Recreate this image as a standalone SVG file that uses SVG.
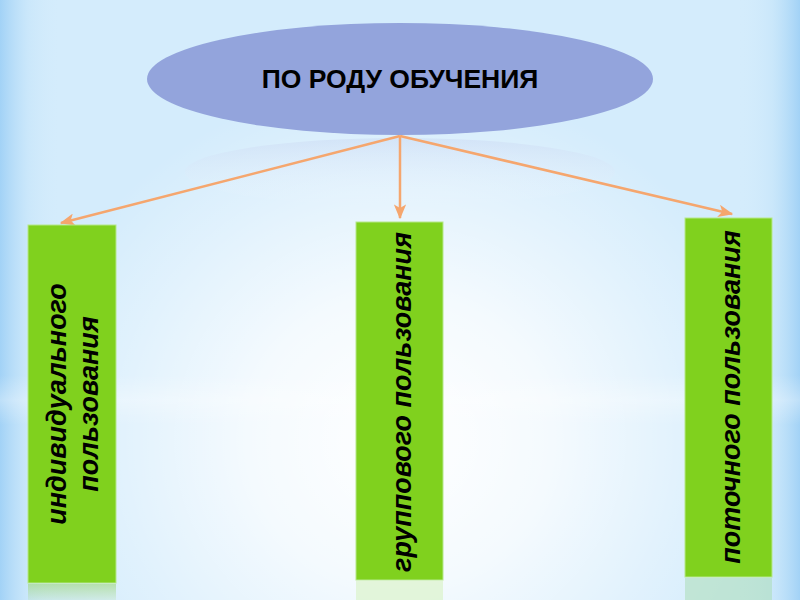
<svg xmlns="http://www.w3.org/2000/svg" width="800" height="600" viewBox="0 0 800 600">
  <defs>
    <linearGradient id="edges" x1="0" y1="0" x2="1" y2="0">
      <stop offset="0" stop-color="#A2D2F6" stop-opacity="1"/>
      <stop offset="0.035" stop-color="#C4E4FA" stop-opacity="0.6"/>
      <stop offset="0.08" stop-color="#D6EDFC" stop-opacity="0"/>
      <stop offset="0.92" stop-color="#D6EDFC" stop-opacity="0"/>
      <stop offset="0.965" stop-color="#C4E4FA" stop-opacity="0.6"/>
      <stop offset="1" stop-color="#A2D2F6" stop-opacity="1"/>
    </linearGradient>
    <radialGradient id="glow" cx="400" cy="440" r="380" gradientUnits="userSpaceOnUse" gradientTransform="translate(400 440) scale(1 0.95) translate(-400 -440)">
      <stop offset="0" stop-color="#FFFFFF" stop-opacity="1"/>
      <stop offset="0.4" stop-color="#FFFFFF" stop-opacity="0.75"/>
      <stop offset="0.75" stop-color="#FFFFFF" stop-opacity="0.3"/>
      <stop offset="1" stop-color="#FFFFFF" stop-opacity="0"/>
    </radialGradient>
    <linearGradient id="band" x1="0" y1="0" x2="0" y2="1">
      <stop offset="0" stop-color="#FFFFFF" stop-opacity="0"/>
      <stop offset="0.5" stop-color="#FFFFFF" stop-opacity="0.3"/>
      <stop offset="1" stop-color="#FFFFFF" stop-opacity="0"/>
    </linearGradient>
    <linearGradient id="ellRefl" x1="0" y1="0" x2="0" y2="1">
      <stop offset="0" stop-color="#C2CEEE" stop-opacity="0.35"/>
      <stop offset="1" stop-color="#FFFFFF" stop-opacity="0"/>
    </linearGradient>
    <linearGradient id="refl" x1="0" y1="0" x2="0" y2="1">
      <stop offset="0" stop-color="#9ED67A" stop-opacity="0.6"/>
      <stop offset="1" stop-color="#9ED67A" stop-opacity="0.15"/>
    </linearGradient>
    <marker id="arrow" viewBox="0 0 12 10" refX="11" refY="5" markerWidth="6" markerHeight="5" orient="auto" markerUnits="strokeWidth">
      <path d="M0,0 L12,5 L0,10 L3,5 Z" fill="#F5A66E"/>
    </marker>
    <style>
      .box { fill: #80D11E; stroke: #B5E88A; stroke-width: 1; }
      .boxtxt { font-family: "Liberation Sans", Arial, sans-serif; font-size: 27px; font-style: italic; font-weight: bold; fill: #000000; text-anchor: middle; }
      .title { font-family: "Liberation Sans", Arial, sans-serif; font-size: 26.5px; font-weight: bold; fill: #000000; text-anchor: middle; }
      .conn { stroke: #F5A66E; stroke-width: 2.5; fill: none; marker-end: url(#arrow); }
    </style>
  </defs>

  <rect x="0" y="0" width="800" height="600" fill="#D4ECFC"/>
  <rect x="0" y="0" width="800" height="600" fill="url(#glow)"/>
  <rect x="0" y="0" width="800" height="600" fill="url(#edges)"/>
  <rect x="0" y="375" width="800" height="50" fill="url(#band)"/>
  <ellipse cx="400" cy="172" rx="215" ry="34" fill="url(#ellRefl)"/>

  <!-- reflections -->
  <rect x="28" y="584" width="88" height="16" fill="url(#refl)"/>
  <rect x="356" y="581" width="87" height="19" fill="#CFF0B0" fill-opacity="0.45"/>
  <rect x="685" y="578" width="87" height="22" fill="#A8DCB0" fill-opacity="0.5"/>

  <g id="connectors">
    <line class="conn" x1="400" y1="136" x2="61" y2="223"/>
    <line class="conn" x1="400" y1="136" x2="400" y2="218"/>
    <line class="conn" x1="400" y1="136" x2="732" y2="214"/>
  </g>

  <g id="root">
    <ellipse cx="400" cy="79" rx="253" ry="56" fill="#93A4DC"/>
    <text class="title" x="400" y="88">ПО РОДУ ОБУЧЕНИЯ</text>
  </g>

  <g id="individual">
    <rect class="box" x="28" y="225" width="88" height="358"/>
    <text class="boxtxt" transform="translate(72 404) rotate(-90)"><tspan x="0" y="-6">индивидуального</tspan><tspan x="0" y="26">пользования</tspan></text>
  </g>

  <g id="group">
    <rect class="box" x="356" y="222" width="87" height="358"/>
    <text class="boxtxt" transform="translate(402 402) rotate(-90)" x="0" y="9">группового пользования</text>
  </g>

  <g id="stream">
    <rect class="box" x="685" y="218" width="87" height="359"/>
    <text class="boxtxt" transform="translate(731 397) rotate(-90)" x="0" y="9">поточного пользования</text>
  </g>
</svg>
